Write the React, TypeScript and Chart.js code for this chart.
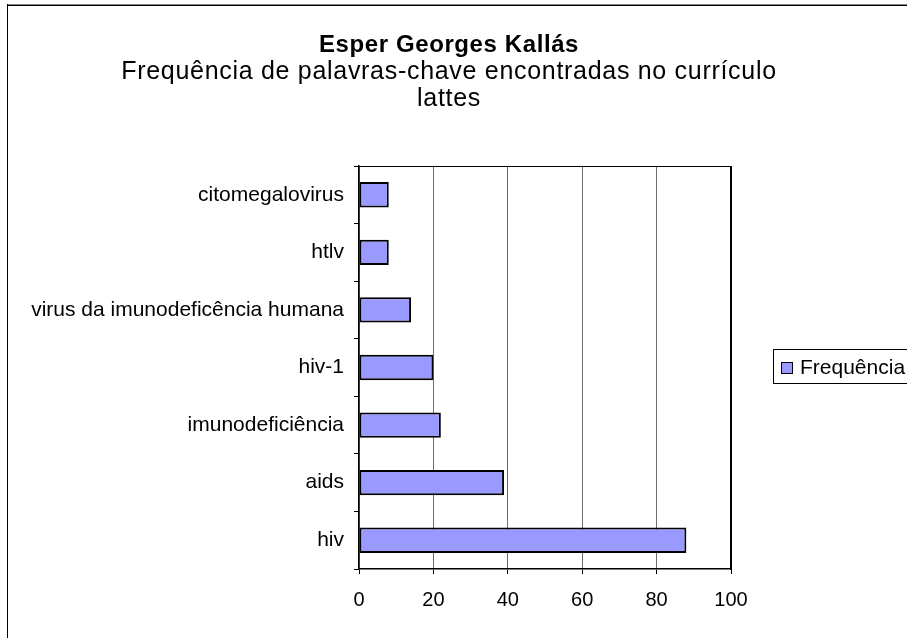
import React, { useEffect, useRef } from 'react';
import { Chart, registerables } from 'chart.js';

Chart.register(...registerables);

const categories = [
  'citomegalovirus',
  'htlv',
  'virus da imunodeficência humana',
  'hiv-1',
  'imunodeficiência',
  'aids',
  'hiv',
];
const values = [8, 8, 14, 20, 22, 39, 88];
const seriesLabel = 'Frequência';
const titleText = 'Esper Georges Kallás';
const subtitleLines = ['Frequência de palavras-chave encontradas no currículo', 'lattes'];
const xMin = 0;
const xMax = 100;
const xStep = 20;

const FONT = '"Liberation Sans", Arial, sans-serif';
const BAR_COLOR = '#9999FF';

const decorPlugin = {
  id: 'decor',
  beforeDraw(chart: any) {
    const ctx = chart.ctx;
    ctx.save();
    ctx.fillStyle = '#ffffff';
    ctx.fillRect(0, 0, chart.width, chart.height);
    ctx.restore();
    ctx.letterSpacing = '0px';
  },
  afterDraw(chart: any) {
    const ctx = chart.ctx;
    const a = chart.chartArea;
    ctx.save();
    // plot area frame (top & right)
    ctx.strokeStyle = '#000';
    ctx.lineWidth = 1;
    ctx.beginPath();
    ctx.moveTo(a.left, a.top + 0.5);
    ctx.lineTo(a.right, a.top + 0.5);
    ctx.stroke();
    ctx.lineWidth = 2;
    ctx.beginPath();
    ctx.moveTo(a.right, a.top);
    ctx.lineTo(a.right, a.bottom + 1);
    ctx.stroke();

    // outer chart frame
    ctx.fillStyle = '#808080';
    ctx.fillRect(7, 4, chart.width, 1);
    ctx.fillStyle = '#000';
    ctx.fillRect(7, 5, chart.width, 1);
    ctx.fillRect(7, 4, 1, chart.height);

    // titles
    ctx.fillStyle = '#000';
    ctx.textAlign = 'center';
    ctx.textBaseline = 'alphabetic';
    ctx.font = `bold 24px ${FONT}`;
    ctx.letterSpacing = '0.6px';
    ctx.fillText(titleText, 449, 52);
    ctx.font = `25px ${FONT}`;
    ctx.letterSpacing = '0.7px';
    subtitleLines.forEach((line, i) => ctx.fillText(line, 449, 79 + i * 27));

    // legend
    const ds = chart.data.datasets[0];
    ctx.letterSpacing = '0px';
    ctx.lineWidth = 1;
    ctx.strokeStyle = '#000';
    ctx.strokeRect(773.5, 349.5, 200, 34);
    ctx.fillStyle = ds.backgroundColor;
    ctx.fillRect(781, 362, 12, 12);
    ctx.strokeRect(781.5, 362.5, 11, 11);
    ctx.fillStyle = '#000';
    ctx.font = `21px ${FONT}`;
    ctx.textAlign = 'left';
    ctx.textBaseline = 'alphabetic';
    ctx.fillText(ds.label, 800, 374);
    ctx.restore();
  },
};

export default function App() {
  const canvasRef = useRef<HTMLCanvasElement | null>(null);

  useEffect(() => {
    if (!canvasRef.current) return;
    const chart = new Chart(canvasRef.current, {
      type: 'bar',
      data: {
        labels: categories,
        datasets: [
          {
            label: seriesLabel,
            data: values,
            backgroundColor: BAR_COLOR,
            borderColor: '#000',
            borderWidth: 2,
            borderSkipped: false,
            barPercentage: 1,
            categoryPercentage: 0.44,
          },
        ],
      },
      options: {
        indexAxis: 'y',
        responsive: false,
        animation: false,
        devicePixelRatio: 1,
        layout: { padding: { left: 0, right: 176, top: 166, bottom: 9 } },
        plugins: {
          legend: { display: false },
          title: { display: false },
          tooltip: { enabled: false },
        },
        scales: {
          x: {
            min: xMin,
            max: xMax,
            ticks: {
              stepSize: xStep,
              color: '#000',
              padding: 14,
              font: { family: FONT, size: 20 },
            },
            grid: {
              color: '#6e6e6e',
              lineWidth: 1,
              tickColor: '#000',
              tickLength: 5,
            },
            border: { color: '#000', width: 1.5 },
            afterFit: (scale: any) => {
              scale.height = 60;
            },
          },
          y: {
            ticks: {
              color: '#000',
              padding: 10,
              font: { family: FONT, size: 21 },
            },
            grid: {
              drawOnChartArea: false,
              offset: true,
              tickColor: '#000',
              tickLength: 5,
            },
            border: { color: '#000', width: 1.5 },
            afterFit: (scale: any) => {
              scale.width = 359;
            },
          },
        },
      },
      plugins: [decorPlugin],
    });
    return () => chart.destroy();
  }, []);

  return (
    <div style={{ position: 'fixed', left: 0, top: 0, width: 907, height: 638, overflow: 'hidden', background: '#fff' }}>
      <canvas ref={canvasRef} width={907} height={638} style={{ display: 'block', width: 907, height: 638 }} />
    </div>
  );
}
